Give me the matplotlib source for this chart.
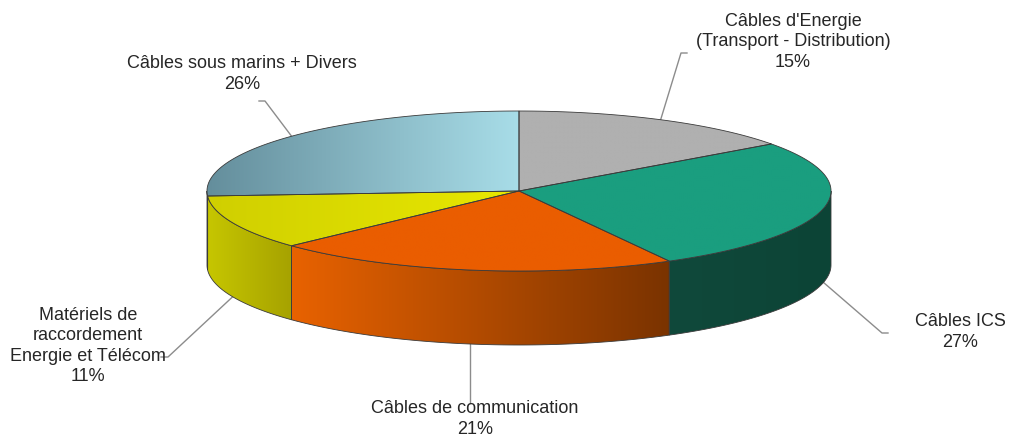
import numpy as np
import matplotlib.pyplot as plt
from matplotlib.patches import Polygon
from matplotlib.colors import LinearSegmentedColormap

plt.rcParams['font.family'] = ['Liberation Sans', 'DejaVu Sans']

# data (clockwise from 12 o'clock)
labels = ["Câbles d'Energie\n(Transport - Distribution)", "Câbles ICS",
          "Câbles de communication", "Matériels de\nraccordement\nEnergie et Télécom",
          "Câbles sous marins + Divers"]
shares = [15, 27, 21, 11, 26]

# top colours (left, right) and side colours (left, right)
top_cols = [("#b0b0b0", "#b0b0b0"), ("#1a9e7f", "#1a9e7f"), ("#ea5d00", "#ea5d00"),
            ("#d0cf00", "#e8e800"), ("#648e9c", "#a8dde8")]
side_cols = [("#8a8a8a", "#8a8a8a"), ("#10493b", "#0c4436"), ("#e86200", "#7a3300"),
             ("#c6c600", "#a6a200"), ("#5a7f8a", "#5a7f8a")]

# label placement (text centre, elbow of leader line, tail end)
label_pos = [(793, 42), (960, 332), (475, 419), (88, 346), (242, 74)]
elbows = [((681, 53), (687, 53)), ((882, 333), (888, 333)), (None, (None, 403)),
          ((168, 357), (161, 357)), ((265, 101), (259, 101))]

cx, cy, rx, ry, depth = 519, 191, 312, 80, 74

fig = plt.figure(figsize=(10.1, 4.36), dpi=100)
ax = fig.add_axes([0, 0, 1, 1])


def rim(t, y_off=0):
    t = np.radians(t)
    return np.column_stack([cx + rx * np.cos(t), cy - ry * np.sin(t) + y_off])


def grad_patch(xy, c0, c1, z):
    poly = Polygon(xy, closed=True, facecolor='none', edgecolor='#3a3a3a', lw=0.6, zorder=z + 0.1)
    ax.add_patch(poly)
    x0, x1 = xy[:, 0].min(), xy[:, 0].max()
    y0, y1 = xy[:, 1].min(), xy[:, 1].max()
    cmap = LinearSegmentedColormap.from_list('g', [c0, c1])
    im = ax.imshow(np.linspace(0, 1, 256).reshape(1, -1), cmap=cmap, aspect='auto',
                   extent=[x0, x1, y1, y0], zorder=z, interpolation='bilinear')
    im.set_clip_path(poly)


total = sum(shares)
starts = 90 - 360 * np.concatenate([[0], np.cumsum(shares)[:-1]]) / total
ends = starts - 360 * np.array(shares) / total

# side walls (front half only)
for i in range(len(shares)):
    a, b = ends[i], starts[i]
    for k in (-360, 0, 360):
        lo, hi = max(a, -180 + k), min(b, k)
        if hi - lo > 0.01:
            t = np.linspace(lo, hi, 80)
            xy = np.vstack([rim(t), rim(t[::-1], depth)])
            grad_patch(xy, side_cols[i][0], side_cols[i][1], 2)

# top faces
for i in range(len(shares)):
    t = np.linspace(starts[i], ends[i], 150)
    xy = np.vstack([[cx, cy], rim(t)])
    grad_patch(xy, top_cols[i][0], top_cols[i][1], 3)

# labels and leader lines
for i in range(len(shares)):
    mid = (starts[i] + ends[i]) / 2
    off = depth if np.sin(np.radians(mid)) < 0 else 0
    ax0, ay0 = rim(np.array([mid]), off)[0]
    elbow, tail = elbows[i]
    if elbow is None:
        xs, ys = [ax0, ax0], [ay0, tail[1]]
    else:
        xs, ys = [ax0, elbow[0], tail[0]], [ay0, elbow[1], tail[1]]
    ax.plot(xs, ys, color='#8c8c8c', lw=1, zorder=1)
    ax.text(label_pos[i][0], label_pos[i][1], f"{labels[i]}\n{shares[i]}%",
            ha='center', va='center', fontsize=13, color='#262626', linespacing=1.27, zorder=5)

ax.set_xlim(0, 1010)
ax.set_ylim(436, 0)
ax.axis('off')
fig.savefig('out.png', dpi=100)
